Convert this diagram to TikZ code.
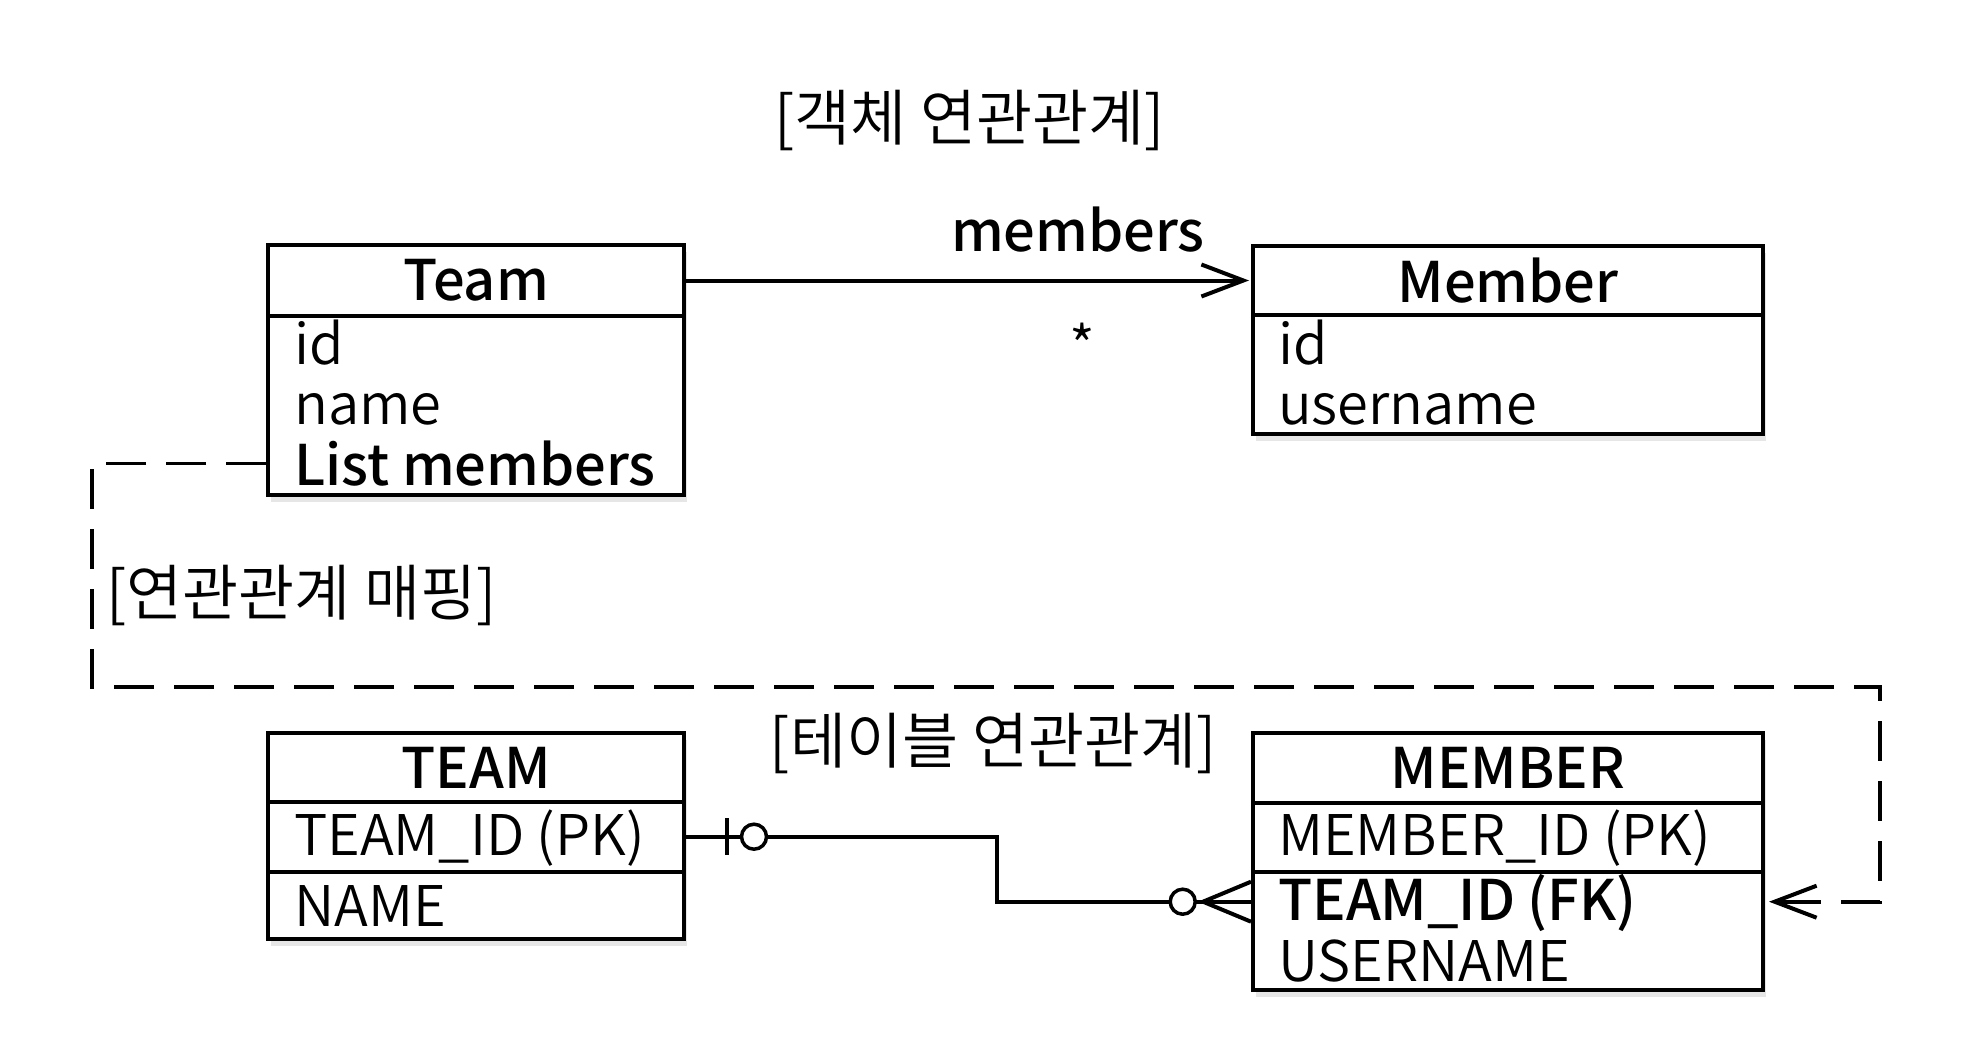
\documentclass[tikz,border=0pt]{standalone}
\usepackage{fontspec}
\setmainfont{Noto Sans CJK KR}[UprightFont={* DemiLight},BoldFont={* Medium}]
\usetikzlibrary{positioning,arrows.meta,shadows}
\tikzset{
  every picture/.style={x=1pt,y=-1pt},
  every node/.style={font=\fontsize{56pt}{60pt}\selectfont},
  >={Straight Barb[length=42pt,width=32pt,line width=4pt]},
  tblbox/.style={draw,line width=4pt,fill=white,inner sep=0pt,outer sep=0pt,
    drop shadow={shadow xshift=3pt,shadow yshift=-7pt,opacity=.2}},
  tblhead/.style={tblbox,font=\fontsize{56pt}{60pt}\selectfont\bfseries},
  attr/.style={anchor=base west,inner sep=0pt},
  keyattr/.style={attr,font=\fontsize{56pt}{60pt}\selectfont\bfseries},
  title/.style={inner sep=0pt,font=\fontsize{61pt}{64pt}\selectfont},
  rel/.style={line width=4pt},
  erring/.style={circle,draw,line width=3.5pt,fill=white,minimum size=25pt,inner sep=0pt},
  mapline/.style={line width=3.8pt,dash pattern=on 40pt off 20pt}
}

\begin{document}
\begin{tikzpicture}
  \useasboundingbox (0,0) rectangle (1972,1052);

  % object model
  \node[title] (objTitle) at (969.5,120.6) {[객체 연관관계]};

  \node[tblhead,minimum width=416pt,minimum height=71pt] (teamH) at (476,280.5) {Team};
  \node[tblbox,minimum width=416pt,minimum height=179pt,below=0pt of teamH] (teamB) {};
  \node[attr] (teamId) at (294,364.4) {id};
  \node[attr] (teamName) at (294,424.9) {name};
  \node[keyattr] (teamList) at (294,485.4) {List members};

  \node[tblhead,minimum width=510pt,minimum height=69pt] (memH) at (1508,280.5) {Member};
  \node[tblbox,minimum width=510pt,minimum height=118.7pt,below=0pt of memH] (memB) {};
  \node[attr] (memId) at (1278,364.4) {id};
  \node[attr] (memUser) at (1278,424.9) {username};

  \draw[rel,->] ([xshift=2pt]teamH.east) -- ([xshift=-4pt]memH.west)
    node[pos=0.696,above=26pt,inner sep=0pt,font=\fontsize{56pt}{60pt}\selectfont\bfseries] (relName) {members}
    node[pos=0.704,below=41pt,inner sep=0pt] (relMult) {*};

  % mapping
  \node[title,anchor=west] (mapTitle) at (106,595.6) {[연관관계 매핑]};
  \coordinate (mapL) at (91.8,686.7);
  \coordinate (mapR) at (1880,686.7);
  \coordinate (fkIn) at (1251,901.7);
  \coordinate (fkOut) at (1769,901.7);
  \draw[mapline,->] ([xshift=-2pt]teamB.west |- teamList) -| (mapL) -- (mapR) |- (fkOut);

  % table model
  \node[title] (tblTitle) at (993.4,743.7) {[테이블 연관관계]};

  \node[tblhead,minimum width=416pt,minimum height=68.7pt] (tblTeamH) at (476,767.4) {TEAM};
  \node[tblbox,minimum width=416pt,minimum height=70pt,below=0pt of tblTeamH] (tblTeamR1) {};
  \node[tblbox,minimum width=416pt,minimum height=67.3pt,below=0pt of tblTeamR1] (tblTeamR2) {};
  \node[attr] (tblTeamPk) at (294,855.8) {TEAM\_ID (PK)};
  \node[attr] (tblTeamName) at (294,926) {NAME};

  \node[tblhead,minimum width=510pt,minimum height=69.5pt] (tblMemH) at (1508,767.8) {MEMBER};
  \node[tblbox,minimum width=510pt,minimum height=69.3pt,below=0pt of tblMemH] (tblMemR1) {};
  \node[tblbox,minimum width=510pt,minimum height=118pt,below=0pt of tblMemR1] (tblMemR2) {};
  \node[attr] (tblMemPk) at (1278,855.8) {MEMBER\_ID (PK)};
  \node[keyattr] (tblMemFk) at (1278,920) {TEAM\_ID (FK)};
  \node[attr] (tblMemUser) at (1278,981.8) {USERNAME};

  \coordinate (erBend) at (997,901.7);
  \draw[rel] ([xshift=2pt]tblTeamR1.east) -| (erBend) -- (fkIn);
  \draw[rel] (726.7,818) -- (726.7,855);
  \draw[rel] (1203,901.7) -- (1251,881.7) (1203,901.7) -- (1251,921.7);
  \node[erring] (oneRing) at (754,836.7) {};
  \node[erring] (manyRing) at (1182.7,901.7) {};
\end{tikzpicture}
\end{document}
